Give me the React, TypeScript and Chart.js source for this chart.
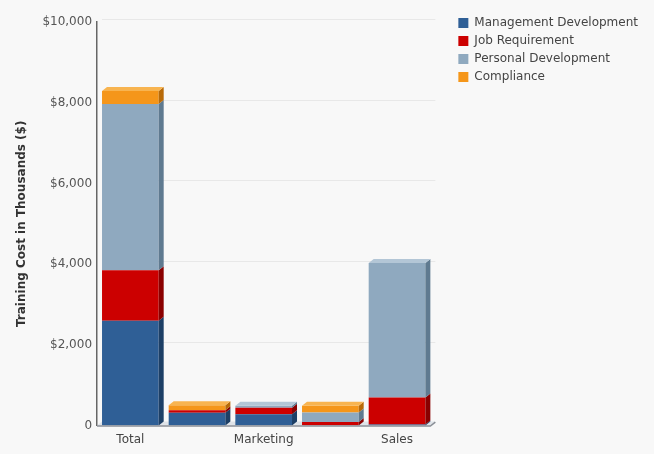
import React, { useEffect, useRef } from "react";
import { Chart, registerables } from "chart.js";

Chart.register(...registerables);

const categories = ["Total", "Finance", "Marketing", "Operations", "Sales"];
const shownLabels = ["Total", "Marketing", "Sales"];
const managementDevelopment = [2600, 320, 280, 0, 30];
const jobRequirement = [1250, 60, 165, 90, 665];
const personalDevelopment = [4120, 0, 45, 233, 3332];
const compliance = [320, 125, 0, 166, 0];
const yMin = 0;
const yMax = 10000;
const yStep = 2000;

const seriesNames = ["Management Development", "Job Requirement", "Personal Development", "Compliance"];
const seriesColors = ["#2f5f96", "#cc0000", "#8fa9bf", "#f5961a"];
const sideColors = ["#1d3f66", "#8a0000", "#5f7a90", "#b86a08"];
const topColors = ["#5a82b3", "#e04040", "#b3c6d6", "#f8b450"];

const DX = 5;
const DY = 4;

const bars3d = {
  id: "bars3d",
  beforeDatasetsDraw(chart: any) {
    const { ctx, chartArea, scales } = chart;
    const y = scales.y;
    ctx.save();
    ctx.strokeStyle = "#e8e8e8";
    ctx.lineWidth = 1;
    y.ticks.forEach((t: any) => {
      if (t.value === 0) return;
      const py = Math.round(y.getPixelForValue(t.value) - DY + 1) + 0.5;
      ctx.beginPath();
      ctx.moveTo(chartArea.left + DX, py);
      ctx.lineTo(chartArea.right + DX, py);
      ctx.stroke();
    });
    const b = y.getPixelForValue(0);
    ctx.fillStyle = "#dfe3e8";
    ctx.beginPath();
    ctx.moveTo(chartArea.left, b);
    ctx.lineTo(chartArea.right, b);
    ctx.lineTo(chartArea.right + DX, b - DY);
    ctx.lineTo(chartArea.left + DX, b - DY);
    ctx.closePath();
    ctx.fill();
    ctx.restore();
  },
  afterDatasetsDraw(chart: any) {
    const { ctx, chartArea, scales } = chart;
    ctx.save();
    const n = chart.data.labels.length;
    for (let i = 0; i < n; i++) {
      let top: any = null;
      let topIdx = -1;
      chart.data.datasets.forEach((ds: any, di: number) => {
        const v = ds.data[i];
        if (!v) return;
        const el = chart.getDatasetMeta(di).data[i];
        const p = el.getProps(["x", "y", "base", "width"], true);
        const right = p.x + p.width / 2;
        ctx.fillStyle = sideColors[di];
        ctx.beginPath();
        ctx.moveTo(right, p.base);
        ctx.lineTo(right, p.y);
        ctx.lineTo(right + DX, p.y - DY);
        ctx.lineTo(right + DX, p.base - DY);
        ctx.closePath();
        ctx.fill();
        top = p;
        topIdx = di;
      });
      if (top) {
        const l = top.x - top.width / 2;
        const r = top.x + top.width / 2;
        ctx.fillStyle = topColors[topIdx];
        ctx.beginPath();
        ctx.moveTo(l, top.y);
        ctx.lineTo(r, top.y);
        ctx.lineTo(r + DX, top.y - DY);
        ctx.lineTo(l + DX, top.y - DY);
        ctx.closePath();
        ctx.fill();
      }
    }
    const b = scales.y.getPixelForValue(0);
    ctx.strokeStyle = "#8a8f96";
    ctx.lineWidth = 1.5;
    ctx.beginPath();
    ctx.moveTo(chartArea.left, b + 0.5);
    ctx.lineTo(chartArea.right, b + 0.5);
    ctx.lineTo(chartArea.right + DX, b - DY + 0.5);
    ctx.stroke();
    ctx.restore();
  },
};

export default function App() {
  const ref = useRef<HTMLCanvasElement>(null);
  useEffect(() => {
    if (!ref.current) return;
    const data = [managementDevelopment, jobRequirement, personalDevelopment, compliance];
    const chart = new Chart(ref.current, {
      type: "bar",
      data: {
        labels: categories,
        datasets: seriesNames.map((name, i) => ({
          label: name,
          data: data[i],
          backgroundColor: seriesColors[i],
          borderWidth: 0,
          categoryPercentage: 1,
          barPercentage: 0.85,
        })),
      },
      options: {
        animation: false,
        responsive: false,
        maintainAspectRatio: false,
        layout: { padding: { top: 11, left: 15, right: 6, bottom: 0 } },
        plugins: {
          tooltip: { enabled: false },
          legend: {
            position: "right",
            align: "start",
            maxWidth: 200,
            labels: {
              boxWidth: 10,
              boxHeight: 10,
              padding: 6,
              color: "#444",
              font: { family: "DejaVu Sans", size: 12 },
            },
          },
        },
        scales: {
          x: {
            stacked: true,
            grid: { display: false, drawTicks: false },
            border: { display: false },
            ticks: {
              color: "#444",
              font: { family: "DejaVu Sans", size: 12 },
              autoSkip: false,
              maxRotation: 0,
              padding: 7,
              callback: function (this: any, _v: any, idx: number) {
                const lab = categories[idx];
                return shownLabels.includes(lab) ? lab : "";
              },
            },
          },
          topSpacer: {
            position: "top",
            display: true,
            grid: { display: false, drawTicks: false },
            border: { display: false },
            ticks: { display: false },
            afterFit: (s: any) => {
              s.height = 11;
            },
          },
          y: {
            stacked: true,
            min: yMin,
            max: yMax,
            grid: { display: false, drawTicks: false },
            border: { display: true, color: "#666", width: 1.5 },
            ticks: {
              stepSize: yStep,
              color: "#555",
              padding: 5,
              font: { family: "DejaVu Sans", size: 12 },
              callback: (v: any) => (v === 0 ? "0" : "$" + Number(v).toLocaleString("en-US")),
            },
            title: {
              display: true,
              text: "Training Cost in Thousands ($)",
              color: "#333",
              font: { family: "DejaVu Sans", size: 12, weight: "bold" },
              padding: { top: 0, bottom: 8 },
            },
          },
          spacer: {
            position: "right",
            display: true,
            grid: { display: false },
            border: { display: false },
            ticks: { display: false },
            afterFit: (s: any) => {
              s.width = 22;
            },
          },
        },
      },
      plugins: [bars3d],
    } as any);
    return () => chart.destroy();
  }, []);
  return (
    <div style={{ position: "fixed", left: 0, top: 0, width: 654, height: 454, background: "#f8f8f8" }}>
      <canvas ref={ref} width={654} height={454} style={{ width: 654, height: 454 }} />
    </div>
  );
}
